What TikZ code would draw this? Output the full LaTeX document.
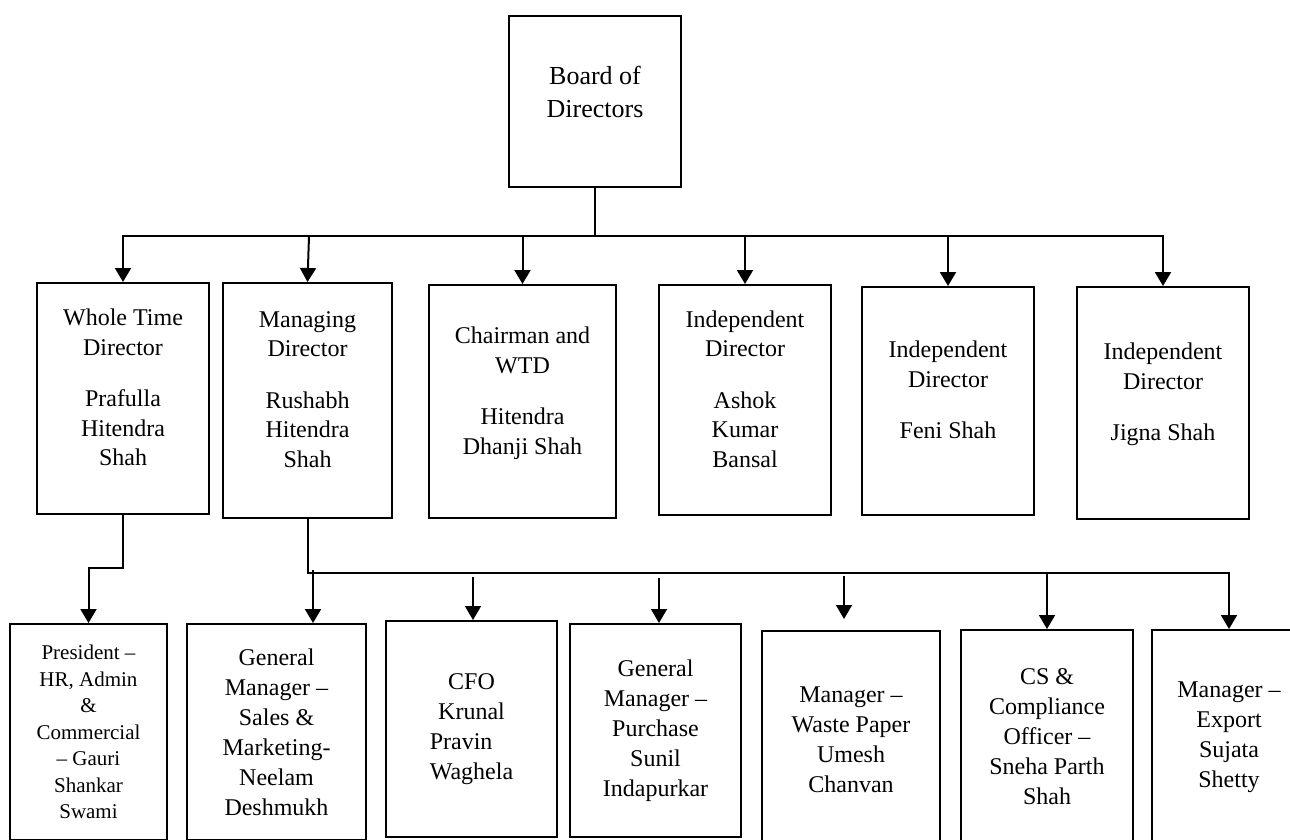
\documentclass[tikz,border=0pt]{standalone}
\usepackage{fontspec}
\setmainfont{Liberation Serif}
\usetikzlibrary{arrows.meta}

\newcommand{\lowpad}[1]{\rule[-#1]{0pt}{0pt}}

\begin{document}
\begin{tikzpicture}[x=1pt, y=-1pt,
    every node/.style = {align=center, inner sep=0pt},
    boardn/.style     = {draw, line width=2pt,
                         font=\fontsize{26}{33}\selectfont},
    dirn/.style       = {draw, line width=2pt,
                         font=\fontsize{24}{29.5}\selectfont},
    staffn/.style     = {draw, line width=2pt,
                         font=\fontsize{24}{30}\selectfont},
    linkln/.style     = {line width=2pt, line cap=rect},
    arrln/.style      = {line width=2pt,
                         -{Triangle[length=14pt, width=16pt]}},
    thinarr/.style    = {arrln, line width=1.5pt}]

    \useasboundingbox (0,0) rectangle (1290,839);
    \clip (0,0) rectangle (1290,839);

    % Board
    \node[boardn, minimum width=172pt, minimum height=171pt] (board) at (595,101.5)
        {Board of\\Directors\lowpad{20pt}};

    % Directors
    \node[dirn, minimum width=172pt, minimum height=231pt] (wtd) at (123,398.5)
        {Whole Time\\Director\\[22pt]Prafulla\\Hitendra\\Shah\lowpad{22pt}};
    \node[dirn, minimum width=169pt, minimum height=235pt] (md) at (307.5,400.5)
        {Managing\\Director\\[22pt]Rushabh\\Hitendra\\Shah\lowpad{22pt}};
    \node[dirn, minimum width=187pt, minimum height=233pt] (chair) at (522.5,401.5)
        {Chairman and\\WTD\\[22pt]Hitendra\\Dhanji Shah\lowpad{22pt}};
    \node[dirn, minimum width=172pt, minimum height=230pt] (ashok) at (745,400)
        {Independent\\Director\\[22pt]Ashok\\Kumar\\Bansal\lowpad{22pt}};
    \node[dirn, minimum width=172pt, minimum height=228pt] (feni) at (948,401)
        {Independent\\Director\\[22pt]Feni Shah\lowpad{22pt}};
    \node[dirn, minimum width=172pt, minimum height=232pt] (jigna) at (1163,403)
        {Independent\\Director\\[22pt]Jigna Shah\lowpad{22pt}};

    % Staff
    \node[staffn, font=\fontsize{21}{26.5}\selectfont,
          minimum width=157pt, minimum height=216pt] (pres) at (88.5,732)
        {President –\\HR, Admin\\\&\\Commercial\\– Gauri\\Shankar\\Swami};
    \node[staffn, minimum width=179pt, minimum height=216pt] (sales) at (276.5,732)
        {General\\Manager –\\Sales \&\\Marketing-\\Neelam\\Deshmukh};
    \node[staffn, minimum width=171pt, minimum height=216pt] (cfo) at (471.5,729)
        {CFO\\Krunal\\\rlap{Pravin}\phantom{Waghela}\\Waghela};
    \node[staffn, minimum width=171pt, minimum height=213pt] (purch) at (655.5,730.5)
        {General\\Manager –\\Purchase\\Sunil\\Indapurkar};
    \node[staffn, minimum width=178pt, minimum height=218pt] (waste) at (851,740)
        {Manager –\\Waste Paper\\Umesh\\Chanvan};
    \node[staffn, minimum width=172pt, minimum height=214pt] (cs) at (1047,737)
        {CS \&\\Compliance\\Officer –\\Sneha Parth\\Shah};
    \node[staffn, minimum width=154pt, minimum height=214pt] (export) at (1229,737)
        {Manager –\\Export\\Sujata\\Shetty};

    % Board to directors
    \coordinate (rbus) at (595,236);
    \draw[linkln] (board.south) -- (rbus);
    \draw[linkln] (wtd.north |- rbus) -- (jigna.north |- rbus);
    \draw[arrln] (wtd.north |- rbus) -- (wtd.north);
    \draw[arrln] ([xshift=1.5pt]md.north |- rbus) -- (md.north);
    \draw[arrln] (chair.north |- rbus) -- (chair.north);
    \draw[arrln] (ashok.north |- rbus) -- (ashok.north);
    \draw[arrln] (feni.north |- rbus) -- (feni.north);
    \draw[arrln] (jigna.north |- rbus) -- (jigna.north);

    % Whole time director to president
    \coordinate (jog) at (88.5,568);
    \draw[arrln] (wtd.south) |- (jog) -- (pres.north);

    % Managing director to staff
    \coordinate (mbus) at (1229,573);
    \draw[linkln] (md.south) |- (mbus);
    \draw[arrln] ([shift={(36.5,-3)}]sales.north |- mbus) -- ([xshift=36.5pt]sales.north);
    \draw[thinarr] ([shift={(1.5,4)}]cfo.north |- mbus) -- ([xshift=1.5pt]cfo.north);
    \draw[thinarr] ([shift={(3.5,5)}]purch.north |- mbus) -- ([xshift=3.5pt]purch.north);
    \draw[thinarr] ([shift={(-7,3)}]waste.north |- mbus) -- ([shift={(-7,-11)}]waste.north);
    \draw[arrln] (cs.north |- mbus) -- (cs.north);
    \draw[arrln] (export.north |- mbus) -- (export.north);
\end{tikzpicture}
\end{document}
